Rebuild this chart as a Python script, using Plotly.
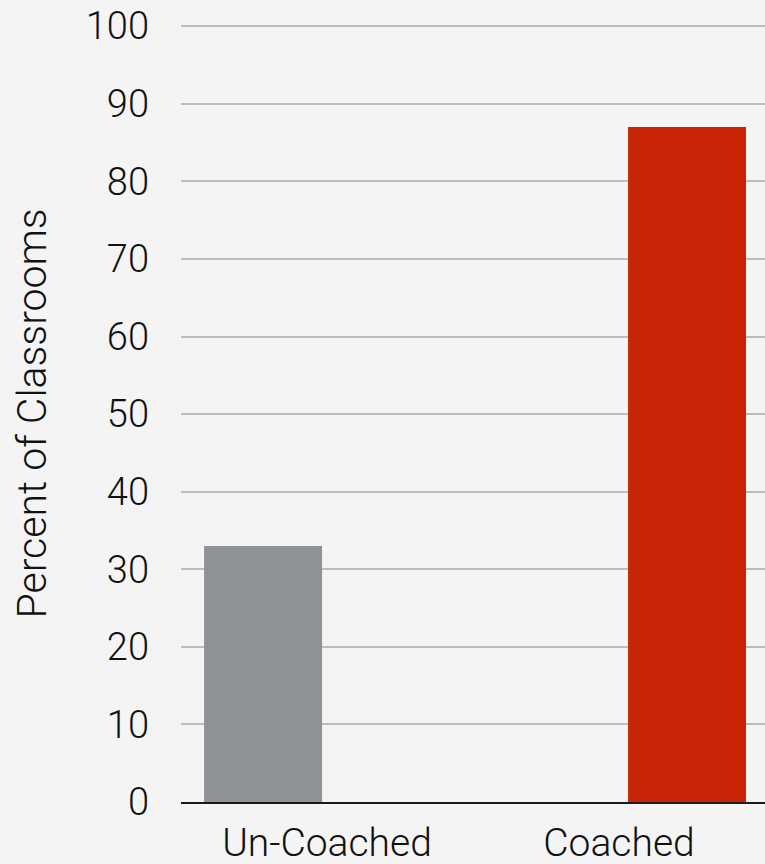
import plotly.graph_objects as go

# ---- data ----
categories = ["Un-Coached", "Coached"]
values = [33, 87]
y_ticks = [0, 10, 20, 30, 40, 50, 60, 70, 80, 90, 100]
y_title = "Percent of Classrooms"

# ---- style ----
bar_colors = ["#8e9195", "#c72506"]
bar_offsets = [-0.421, 0.031]
bar_width = 0.404
FAMILY = "Roboto, 'Helvetica Neue', Arial, sans-serif"
FONT = dict(family=FAMILY, size=38, color="#111111", weight=300)
XFONT = dict(family=FAMILY, size=39, color="#111111", weight=300)
TFONT = dict(family=FAMILY, size=41, color="#111111", weight=300)

fig = go.Figure()
for cat, val, col, off in zip(categories, values, bar_colors, bar_offsets):
    fig.add_trace(go.Bar(
        x=[cat], y=[val], marker=dict(color=col, line=dict(width=0)),
        offset=off, width=bar_width, showlegend=False, hoverinfo="x+y",
    ))

fig.update_layout(
    width=765, height=864,
    margin=dict(l=181, r=0, t=25, b=62, pad=0),
    paper_bgcolor="#f4f4f4", plot_bgcolor="#f4f4f4",
    barmode="overlay",
    font=FONT,
    xaxis=dict(
        type="category", categoryorder="array", categoryarray=categories,
        range=[-0.5, 1.5], showgrid=False, zeroline=False, automargin=False,
        showline=True, linecolor="#1a1a1a", linewidth=1.5, layer="below traces",
        ticks="", ticklabelstandoff=5, tickfont=XFONT,
    ),
    yaxis=dict(
        range=[0, 100.15], tickvals=y_ticks, ticktext=[str(v) for v in y_ticks],
        showgrid=True, gridcolor="#bdbdbd", gridwidth=1.5, zeroline=False,
        automargin=False,
        showline=False, ticks="", ticklabelstandoff=31, tickfont=FONT,
        layer="below traces",
    ),
    annotations=[dict(
        text=y_title, textangle=-90, xref="paper", yref="paper",
        x=(31 - 181) / 584, y=0.5, xanchor="center", yanchor="middle",
        showarrow=False, font=TFONT,
    )],
)

fig.write_html("out.html")
